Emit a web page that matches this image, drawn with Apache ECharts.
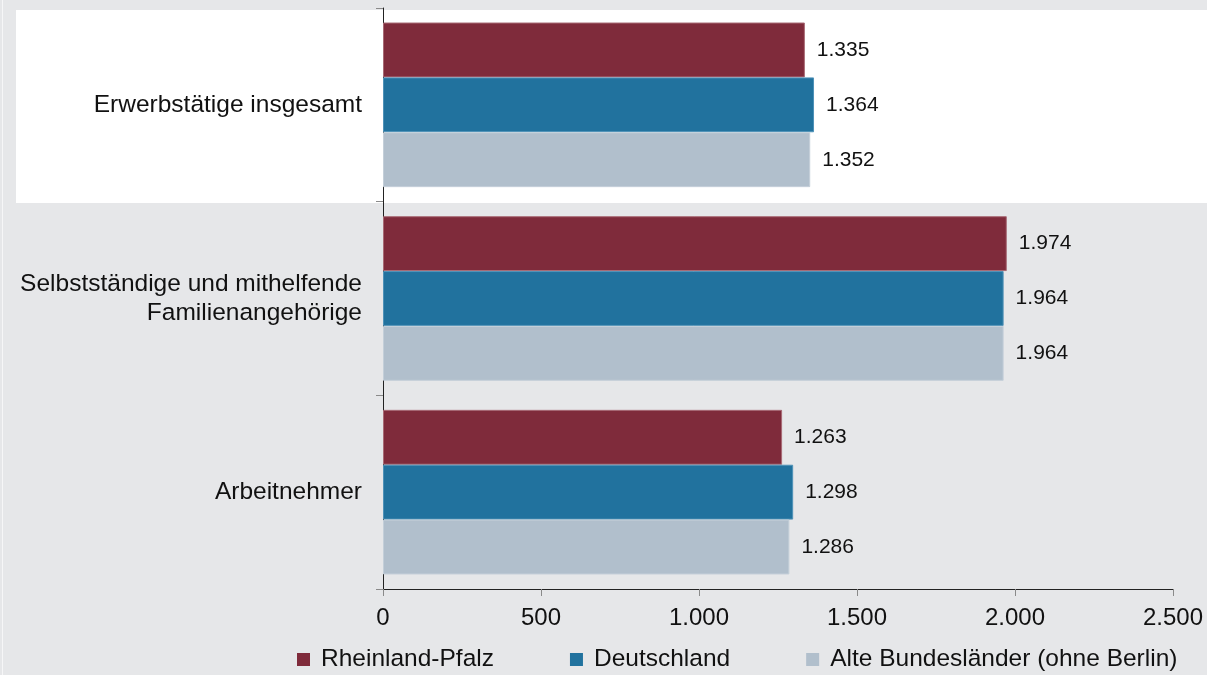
<!DOCTYPE html>
<html>
<head>
<meta charset="utf-8">
<script src="https://cdn.jsdelivr.net/npm/echarts@6/dist/echarts.min.js"></script>
<style>
  html, body { margin: 0; padding: 0; background: #e6e7e9; }
  #chart { width: 1207px; height: 675px; }
</style>
</head>
<body>
<div id="chart"></div>
<script>
// Categories (top to bottom)
const categories = [
  'Erwerbstätige insgesamt',
  'Selbstständige und mithelfende\nFamilienangehörige',
  'Arbeitnehmer'
]

const seriesNames = ['Rheinland-Pfalz', 'Deutschland', 'Alte Bundesländer (ohne Berlin)']
const rheinlandPfalz = [1335, 1974, 1263]
const deutschland = [1364, 1964, 1298]
const alteBundeslaender = [1352, 1964, 1286]

const xTicks = { min: 0, max: 2500, interval: 500 }

const colors = ['#7f2b3b', '#21729e', '#b1bfcc']
const borderColors = ['#a86a75', '#4f92b8', '#c4cfd9']
const fontFamily = '"Liberation Sans", Arial, sans-serif'

// German thousands separator
const fmt = v => {
  const s = String(Math.round(v))
  return s.replace(/\B(?=(\d{3})+(?!\d))/g, '.')
}

const chart = echarts.init(document.getElementById('chart'))

const makeSeries = (name, data, i) => ({
  name,
  type: 'bar',
  data,
  barGap: 0,
  barCategoryGap: '15%',
  itemStyle: { color: colors[i], borderColor: borderColors[i], borderWidth: 1 },
  label: {
    show: true,
    position: 'right',
    distance: 12,
    fontSize: 21,
    fontFamily,
    color: '#111',
    formatter: p => fmt(p.value)
  }
})

chart.setOption({
  backgroundColor: '#e6e7e9',
  animation: false,
  textStyle: { fontFamily },
  graphic: [
    { type: 'rect', z: -10, shape: { x: 16, y: 10, width: 1191, height: 193 }, style: { fill: '#ffffff' } },
    { type: 'rect', z: -10, shape: { x: 2, y: 0, width: 1, height: 675 }, style: { fill: '#f6f6f7' } }
  ],
  grid: { left: 383, right: 34, top: 8, bottom: 86 },
  legend: {
    left: 292,
    top: 642,
    itemWidth: 13,
    itemHeight: 13,
    itemGap: 76,
    icon: 'rect',
    itemStyle: { borderWidth: 0 },
    textStyle: { fontSize: 24.5, color: '#111', fontFamily, padding: [0, 0, 0, 6] },
    data: seriesNames
  },
  xAxis: {
    type: 'value',
    min: xTicks.min,
    max: xTicks.max,
    interval: xTicks.interval,
    axisLine: { show: true, lineStyle: { color: '#222', width: 1 } },
    axisTick: { show: true, length: 7, lineStyle: { color: '#8a8a8a' } },
    splitLine: { show: false },
    axisLabel: { fontSize: 24, color: '#111', margin: 17, formatter: fmt }
  },
  yAxis: {
    type: 'category',
    inverse: true,
    data: categories,
    axisLine: { show: true, lineStyle: { color: '#222', width: 1 } },
    axisTick: { show: true, length: 7, lineStyle: { color: '#8a8a8a' } },
    axisLabel: { fontSize: 24.5, lineHeight: 29, color: '#111', margin: 21, align: 'right' }
  },
  series: [
    makeSeries(seriesNames[0], rheinlandPfalz, 0),
    makeSeries(seriesNames[1], deutschland, 1),
    makeSeries(seriesNames[2], alteBundeslaender, 2)
  ]
})
</script>
</body>
</html>
